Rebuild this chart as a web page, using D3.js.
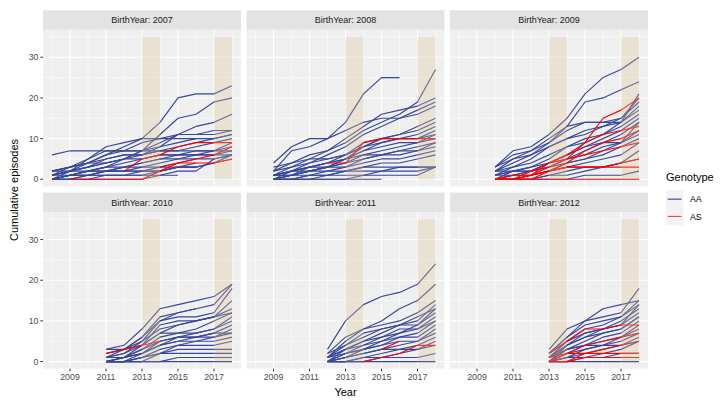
<!DOCTYPE html>
<html><head><meta charset="utf-8">
<script src="https://cdn.jsdelivr.net/npm/d3@7"></script>
<style>body{margin:0;background:#fff}svg{display:block}text{font-family:"Liberation Sans",Arial,sans-serif}</style>
</head><body><svg id="c" width="728" height="407"></svg>
<script>
// ---- data: [genotype, first year, cumulative episodes per year] ----
const birthYears = [2007, 2008, 2009, 2010, 2011, 2012];
const genotypes = ["AA", "AS"];
const xTicks = [2009, 2011, 2013, 2015, 2017];
const yTicks = [0, 10, 20, 30];
const bands = [[2013, 2014], [2017, 2018]];

const lines2007 = [
["AA",2008,[6,7,7,7,7,7,7,7,7,7,7]],["AA",2008,[2,3,4,6,8,10,14,20,21,21,23]],
["AA",2008,[1,2,3,4,5,7,11,15,16,19,20]],["AA",2008,[0,1,2,3,5,7,9,11,13,14,16]],
["AA",2008,[2,3,5,8,9,10,10,11,11,12,12]],["AA",2008,[1,2,4,6,7,9,10,10,10]],
["AA",2008,[0,2,5,7,7,7,8,11,11,11,12]],["AA",2008,[1,3,4,5,6,6,7,8,9,10,11]],
["AA",2008,[2,3,4,4,5,6,7,7,8,9,10]],["AA",2008,[0,1,1,2,3,4,5,6,7,7,9]],
["AA",2008,[1,2,3,4,5,5,6,6,6,7,8]],["AA",2008,[0,0,1,2,2,3,4,5,6,6,7]],
["AA",2008,[0,1,2,2,3,3,3,4,5,5,6]],["AA",2008,[1,1,2,3,4,5,6,6,6,6,6]],
["AA",2008,[0,1,1,1,1,1,1,1]],["AA",2008,[0,0,0,1,1,1,2,3,3]],
["AA",2008,[0,1,1,2,2,2,3,3,3,4,6]],["AA",2008,[2,2,3,5,6,6,8,9,10,10,11]],
["AA",2008,[0,0,0,0,0,0,1,2,2,5,6]],["AA",2008,[1,2,2,3,3,4,5,5,5]],
["AA",2008,[0,1,2,2,2,2,2,3,3,4,5]],["AA",2008,[0,0,1,1,1,2,2,3,4]],
["AS",2009,[0,0,0,0,0,2,4,5,6,8]],["AS",2012,[2,5,6,8,9,9,9]],["AS",2014,[3,4,4,4,5]]
];
const lines2008 = [
["AA",2009,[4,8,10,10,14,21,25,25]],["AA",2009,[2,4,6,7,9,12,14,16,19,27]],
["AA",2009,[1,3,5,7,10,13,16,17,18,20]],["AA",2009,[1,2,4,6,8,11,13,15,17,19]],
["AA",2009,[2,7,8,10,12,14,15,15,16,18]],["AA",2009,[0,1,2,3,5,8,10,11,13,15]],
["AA",2009,[1,2,3,4,6,9,10,11,12,14]],["AA",2009,[0,1,3,4,5,7,9,10,11,13]],
["AA",2009,[2,3,4,5,6,8,9,10,10,12]],["AA",2009,[0,2,3,4,5,7,8,9,9,11]],
["AA",2009,[1,1,2,3,4,6,7,8,9,10]],["AA",2009,[0,1,2,3,3,5,6,7,8,9]],
["AA",2009,[1,2,3,3,4,5,6,6,7,8]],["AA",2009,[0,1,1,2,3,4,5,5,6,7]],
["AA",2009,[0,0,1,1,2,3,4,4,5,6]],["AA",2009,[1,1,2,2,2,3,3,3,3,3]],
["AA",2009,[0,0,0,1,1,1,2,3,3,3]],["AA",2009,[0,0,0,0,0,0,0]],
["AA",2009,[0,0,0,0,0,1,1,1,1,3]],["AA",2009,[3,4,5,5,6,8,10,10,10,11]],
["AA",2009,[1,2,2,3,5,6,6,7,7,9]],["AA",2009,[0,0,1,1,2,2,2,2,2,3]],
["AS",2012,[4,4,9,10,10,10,10]]
];
const lines2009 = [
["AA",2010,[3,7,8,11,15,21,25,27,30]],["AA",2010,[2,5,7,10,13,19,20,22,24]],
["AA",2010,[3,6,7,9,12,14,14,14,21]],["AA",2010,[2,4,6,9,13,14,14,15,20]],
["AA",2010,[1,3,5,8,10,12,13,15,19]],["AA",2010,[3,5,6,8,10,11,13,14,18]],
["AA",2010,[1,2,3,5,8,10,11,14,17]],["AA",2010,[2,3,4,6,8,9,11,13,16]],
["AA",2010,[0,2,3,4,6,8,10,12,15]],["AA",2010,[1,2,2,4,5,7,9,11,14]],
["AA",2010,[0,1,2,3,5,6,8,9,12]],["AA",2010,[0,1,1,2,4,5,7,9,11]],
["AA",2010,[2,2,2,3,4,5,6,8,10]],["AA",2010,[0,0,1,2,3,4,5,6,9]],
["AA",2010,[0,0,0,1,1,2,3,4,7]],["AA",2010,[0,0,0,0,0,1,1,1,2]],
["AA",2010,[1,1,2,4,6,8,9,9,14]],["AA",2010,[0,0,0,1,2,3,3,4,5]],
["AS",2010,[0,0,0,0,0,0,0,0,0]],["AS",2010,[0,0,1,3,5,9,15,17,20]],
["AS",2010,[0,0,1,4,6,9,11,12,13]],["AS",2010,[0,0,0,2,4,7,9,10,12]],
["AS",2010,[0,0,2,4,5,6,7,8,9]],["AS",2010,[0,1,1,2,3,3,3,3,3]],
["AS",2010,[0,0,1,2,3,3,3,4,5]]
];
const lines2010 = [
["AA",2011,[3,4,8,13,14,15,16,19]],["AA",2011,[2,3,6,11,12,13,14,19]],
["AA",2011,[1,2,5,10,11,11,12,18]],["AA",2011,[1,3,6,10,12,13]],
["AA",2011,[0,1,4,9,10,10,11,15]],["AA",2011,[2,3,5,8,9,10,11,13]],
["AA",2011,[1,2,4,7,7,8,10,12]],["AA",2011,[0,1,3,6,7,7,8,11]],
["AA",2011,[0,1,2,5,6,7,8,10]],["AA",2011,[1,1,3,5,6,6,7,9]],
["AA",2011,[0,0,2,4,5,6,6,8]],["AA",2011,[0,1,2,4,5,5,6,7]],
["AA",2011,[0,0,1,3,4,5,5,6]],["AA",2011,[0,0,1,2,4,4,4,5]],
["AA",2011,[0,0,0,2,2,2,2,2]],["AA",2011,[0,0,0,0,1,1,1,1]],
["AA",2011,[0,0,0,0,0,0,0,0]],["AA",2011,[1,1,2,4,6,6,7,7]],
["AA",2011,[0,0,1,2,3,3,3,3]],["AA",2011,[3,3,4,7,9,10,11,12]],
["AS",2011,[2,3,4,5]]
];
const lines2011 = [
["AA",2012,[3,10,14,16,17,19,24]],["AA",2012,[1,5,8,10,13,15,19]],
["AA",2012,[2,6,8,9,10,12,15]],["AA",2012,[1,4,6,8,9,10,14]],
["AA",2012,[0,3,5,7,9,9,13]],["AA",2012,[1,3,5,6,7,9,12]],
["AA",2012,[0,2,4,5,7,8,11]],["AA",2012,[0,2,3,5,6,7,10]],
["AA",2012,[0,1,3,4,6,6,9]],["AA",2012,[1,2,3,4,5,5,8]],
["AA",2012,[0,1,2,3,4,5,7]],["AA",2012,[0,1,2,3,3,4,6]],
["AA",2012,[0,0,1,2,3,3,5]],["AA",2012,[0,0,1,1,2,3,4]],
["AA",2012,[0,0,0,0,0,0,0]],["AA",2012,[0,0,0,1,1,1,2]],
["AA",2012,[2,4,7,8,9,11,13]],["AA",2012,[1,3,4,6,8,8,10]],
["AS",2014,[0,1,2,4,4]],["AS",2015,[3,5]]
];
const lines2012 = [
["AA",2013,[3,8,10,13,14,15]],["AA",2013,[2,6,10,11,12,18]],
["AA",2013,[2,6,9,10,11,15]],["AA",2013,[1,5,8,9,11,14]],
["AA",2013,[0,4,7,8,10,13]],["AA",2013,[1,4,6,8,9,12]],
["AA",2013,[0,3,5,7,8,11]],["AA",2013,[1,3,4,6,7,10]],
["AA",2013,[0,2,4,5,6,9]],["AA",2013,[0,2,3,4,6,8]],
["AA",2013,[0,1,3,4,5,7]],["AA",2013,[0,1,2,3,4,6]],
["AA",2013,[0,0,1,2,3,5]],["AA",2013,[0,0,0,0,0,0]],
["AA",2013,[0,1,1,1,2,2]],["AA",2013,[2,5,7,8,9,14]],
["AA",2013,[1,4,6,7,8,11]],["AA",2013,[0,3,4,4,4,5]],
["AS",2013,[2,5,8,8,9,9]],["AS",2013,[0,2,4,5,6,7]],
["AS",2014,[0,2,3,4,5]],["AS",2013,[1,2,2,2,2,2]],["AS",2013,[0,0,1,1,1,1]]
];
const panelLines = [lines2007, lines2008, lines2009, lines2010, lines2011, lines2012];

// ---- layout ----
const svg = d3.select("#c");
const colX = [43, 246.5, 450], pw = 198;
const rowStrip = [10.3, 192.6], stripH = 19.5, ph = 156.6;
const color = d3.scaleOrdinal().domain(genotypes).range(["#374799", "#FF0000"]);
const x = d3.scaleLinear().domain([2007.5, 2018.5]).range([0, pw]);
const y = d3.scaleLinear().domain([-1.75, 36.75]).range([ph, 0]);
const tickCol = "#4D4D4D";

birthYears.forEach((by, i) => {
  const c = i % 3, r = Math.floor(i / 3);
  const gx = colX[c], sy = rowStrip[r], py = sy + stripH;
  svg.append("rect").attr("x", gx).attr("y", sy).attr("width", pw).attr("height", stripH).attr("fill", "#E3E3E3");
  svg.append("text").attr("x", gx + pw / 2).attr("y", sy + stripH / 2).attr("dy", "0.35em")
    .attr("text-anchor", "middle").attr("font-size", 9).attr("fill", "#1A1A1A").text("BirthYear: " + by);
  const g = svg.append("g").attr("transform", `translate(${gx},${py})`);
  g.append("rect").attr("width", pw).attr("height", ph).attr("fill", "#EFEFEF");
  const minorX = d3.range(2008, 2019, 2), minorY = [5, 15, 25, 35];
  g.selectAll(".mx").data(minorX).join("line").attr("x1", d => x(d)).attr("x2", d => x(d)).attr("y1", 0).attr("y2", ph).attr("stroke", "#fff").attr("stroke-width", 0.55);
  g.selectAll(".my").data(minorY).join("line").attr("y1", d => y(d)).attr("y2", d => y(d)).attr("x1", 0).attr("x2", pw).attr("stroke", "#fff").attr("stroke-width", 0.55);
  g.selectAll(".Mx").data(xTicks).join("line").attr("x1", d => x(d)).attr("x2", d => x(d)).attr("y1", 0).attr("y2", ph).attr("stroke", "#fff").attr("stroke-width", 1.1);
  g.selectAll(".My").data(yTicks).join("line").attr("y1", d => y(d)).attr("y2", d => y(d)).attr("x1", 0).attr("x2", pw).attr("stroke", "#fff").attr("stroke-width", 1.1);
  const line = d3.line().x(d => x(d[0])).y(d => y(d[1]));
  const data = panelLines[i].map(([gt, start, vals]) => ({ gt, pts: vals.map((v, k) => [start + k, v]) }));
  const ordered = data.filter(d => d.gt === "AA").concat(data.filter(d => d.gt === "AS"));
  g.selectAll(".ln").data(ordered).join("path").attr("d", d => line(d.pts)).attr("fill", "none")
    .attr("stroke", d => color(d.gt)).attr("stroke-width", 1.15).attr("stroke-linejoin", "round");
  g.selectAll(".bd").data(bands).join("rect").attr("x", d => x(d[0])).attr("width", d => x(d[1]) - x(d[0]))
    .attr("y", y(35)).attr("height", y(0) - y(35)).attr("fill", "#DCC08C").attr("opacity", 0.3);
  if (c === 0) {
    yTicks.forEach(t => {
      g.append("line").attr("x1", -2.7).attr("x2", 0).attr("y1", y(t)).attr("y2", y(t)).attr("stroke", "#333").attr("stroke-width", 1);
      g.append("text").attr("x", -4.5).attr("y", y(t)).attr("dy", "0.35em").attr("text-anchor", "end")
        .attr("font-size", 8.8).attr("fill", tickCol).text(t);
    });
  }
  if (r === 1) {
    xTicks.forEach(t => {
      g.append("line").attr("x1", x(t)).attr("x2", x(t)).attr("y1", ph).attr("y2", ph + 2.7).attr("stroke", "#333").attr("stroke-width", 1);
      g.append("text").attr("x", x(t)).attr("y", ph + 5).attr("dy", "0.75em").attr("text-anchor", "middle")
        .attr("font-size", 8.8).attr("fill", tickCol).text(t);
    });
  }
});

svg.append("text").attr("x", colX[0] + (colX[2] + pw - colX[0]) / 2).attr("y", 396).attr("text-anchor", "middle")
  .attr("font-size", 11).attr("fill", "#000").text("Year");
svg.append("text").attr("transform", "translate(18,190) rotate(-90)").attr("text-anchor", "middle")
  .attr("font-size", 11).attr("fill", "#000").text("Cumulative episodes");

const lg = svg.append("g").attr("transform", "translate(666,0)");
lg.append("text").attr("x", 0).attr("y", 177).attr("dy", "0.35em").attr("font-size", 11).attr("fill", "#000").text("Genotype");
genotypes.forEach((gt, k) => {
  const ky = 190.5 + k * 17.3;
  lg.append("rect").attr("x", 0).attr("y", ky).attr("width", 17.3).attr("height", 17.3).attr("fill", "#F2F2F2");
  lg.append("line").attr("x1", 1.7).attr("x2", 15.6).attr("y1", ky + 8.65).attr("y2", ky + 8.65)
    .attr("stroke", k === 0 ? color(gt) : "#F04848").attr("stroke-width", 1.15);
  lg.append("text").attr("x", 24).attr("y", ky + 8.65).attr("dy", "0.35em").attr("font-size", 8.8).attr("fill", "#000").text(gt);
});
</script></body></html>
